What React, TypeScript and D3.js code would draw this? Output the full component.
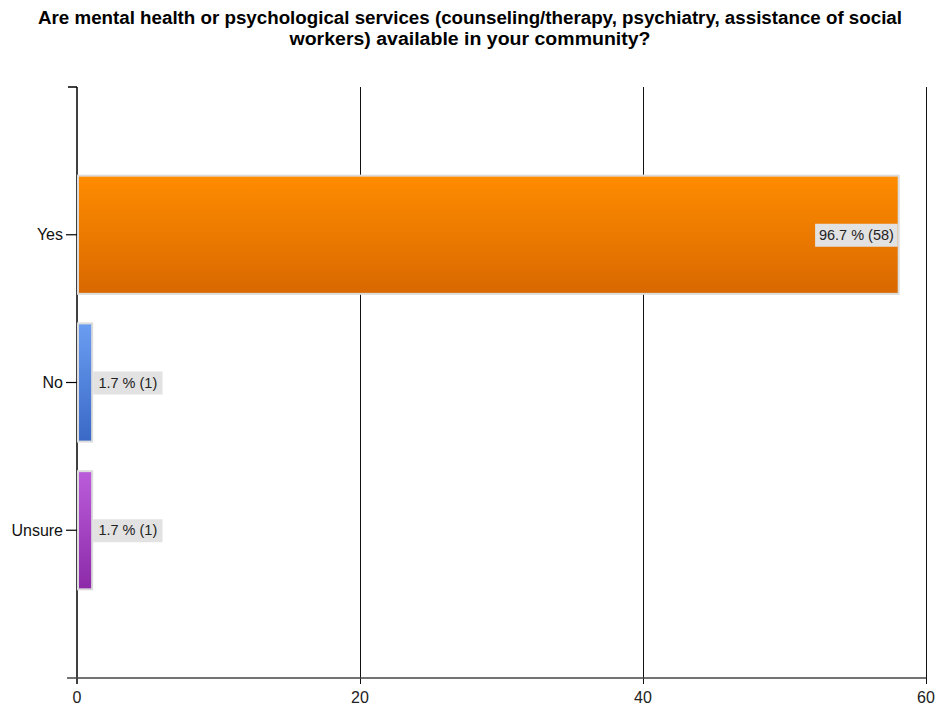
import React from "react";
import * as d3 from "d3";

const categories = ["Yes", "No", "Unsure"];
const counts = [58, 1, 1];
const percents = [96.7, 1.7, 1.7];
const xTicks = [0, 20, 40, 60];
const titleLines = [
  "Are mental health or psychological services (counseling/therapy, psychiatry, assistance of social",
  "workers) available in your community?",
];
const titleWidths = [864, 361];
const gradColors: [string, string][] = [
  ["#ff8c00", "#d86800"],
  ["#6a9ef2", "#3a68c6"],
  ["#bb5ddb", "#8c2aa8"],
];

export default function App() {
  const W = 940, H = 710;
  const left = 77, right = 926, top = 87, bottom = 678;
  const x = d3.scaleLinear().domain([0, 60]).range([left, right]);
  const y = d3.scalePoint<string>().domain(categories).range([top, bottom]).padding(1);
  const step = y.step();
  const barH = step * 0.8;
  const font = "Arial, 'Liberation Sans', sans-serif";

  return (
    <svg width={W} height={H} style={{ position: "absolute", left: 0, top: 0, background: "#fff" }}>
      <defs>
        {gradColors.map((c, i) => (
          <linearGradient key={i} id={`g${i}`} x1="0" y1="0" x2="0" y2="1">
            <stop offset="0%" stopColor={c[0]} />
            <stop offset="100%" stopColor={c[1]} />
          </linearGradient>
        ))}
      </defs>
      {titleLines.map((t, i) => (
        <text key={i} x={470 - titleWidths[i] / 2} y={24 + i * 21} textLength={titleWidths[i]} lengthAdjust="spacingAndGlyphs" fontFamily={font} fontWeight="bold" fontSize={17.5} fill="#000">
          {t}
        </text>
      ))}
      {/* gridlines */}
      {xTicks.slice(1).map((t) => (
        <line key={t} x1={Math.round(x(t)) + 0.5} x2={Math.round(x(t)) + 0.5} y1={top} y2={bottom + 6} stroke="#111" strokeWidth={1} />
      ))}
      {/* y axis */}
      <line x1={left} x2={left} y1={top} y2={bottom + 6} stroke="#000" strokeWidth={1.5} />
      <line x1={left - 9} x2={left} y1={top} y2={top} stroke="#000" strokeWidth={1.5} />
      {/* x axis */}
      <line x1={left - 10} x2={right} y1={bottom} y2={bottom} stroke="#444" strokeWidth={1.5} />
      {xTicks.map((t) => (
        <text key={t} x={x(t)} y={bottom + 25} textAnchor="middle" fontFamily={font} fontSize={16} fill="#222">
          {t}
        </text>
      ))}
      {/* bars */}
      {categories.map((c, i) => {
        const cy = y(c)!;
        const x1 = x(counts[i]);
        const label = `${percents[i]} % (${counts[i]})`;
        const lw = label.length * 6.6 + 10;
        const inside = x1 - left > lw + 20;
        const lx = inside ? x1 - lw : x1 + 2;
        return (
          <g key={c}>
            <rect x={left + 1} y={cy - barH / 2} width={x1 - left} height={barH} fill={`url(#g${i})`} stroke="#dcdcdc" strokeWidth={2} />
            <line x1={left - 11} x2={left} y1={cy} y2={cy} stroke="#000" strokeWidth={1.2} />
            <text x={left - 14} y={cy + 5.5} textAnchor="end" fontFamily={font} fontSize={16} fill="#111">
              {c}
            </text>
            <rect x={lx} y={cy - 11} width={lw} height={23} fill="#e2e2e2" />
            <text x={lx + lw / 2} y={cy + 5} textAnchor="middle" fontFamily={font} fontSize={14.5} fill="#222">
              {label}
            </text>
          </g>
        );
      })}
    </svg>
  );
}
